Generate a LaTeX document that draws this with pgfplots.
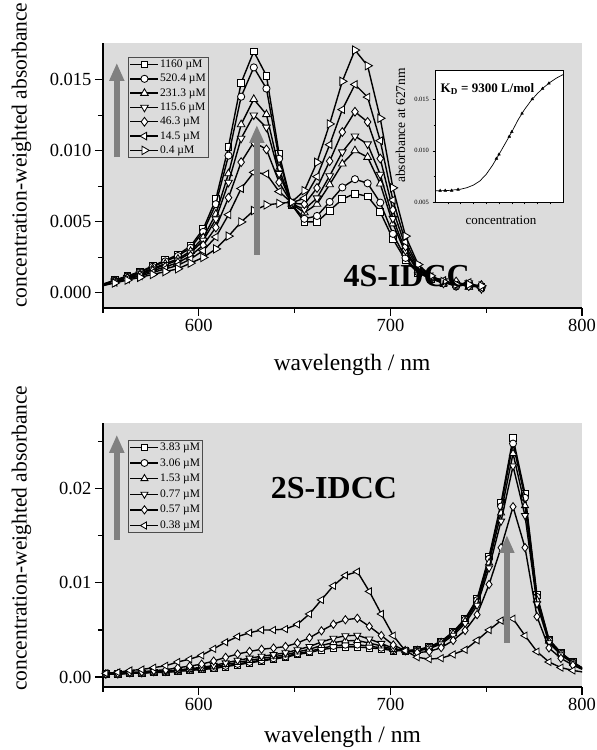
\documentclass[border=0pt]{standalone}
\usepackage{fontspec}
\setmainfont{Liberation Serif}
\usepackage{pgfplots}
\pgfplotsset{compat=1.18}
\usepackage{pgfplotstable}
\usetikzlibrary{arrows.meta}
\definecolor{bggray}{RGB}{220,220,220}
\definecolor{arrgray}{RGB}{128,128,128}
\tikzset{mo/.style={fill=white, line width=0.85pt}}

\pgfplotstableread{
lam a b c d e f g
549.5 0.00060 0.00059 0.00057 0.00056 0.00054 0.00052 0.00050
556.1 0.00090 0.00088 0.00084 0.00082 0.00079 0.00075 0.00070
562.7 0.00120 0.00117 0.00111 0.00108 0.00103 0.00097 0.00090
569.3 0.00150 0.00146 0.00138 0.00134 0.00127 0.00120 0.00110
575.9 0.00190 0.00184 0.00172 0.00166 0.00156 0.00144 0.00130
582.5 0.00230 0.00222 0.00206 0.00198 0.00184 0.00169 0.00150
589.1 0.00270 0.00260 0.00240 0.00230 0.00213 0.00194 0.00170
595.7 0.00330 0.00318 0.00294 0.00282 0.00262 0.00239 0.00210
602.3 0.00450 0.00430 0.00390 0.00370 0.00336 0.00298 0.00250
608.9 0.00660 0.00625 0.00555 0.00520 0.00461 0.00394 0.00310
615.5 0.01030 0.00967 0.00841 0.00778 0.00671 0.00551 0.00400
622.1 0.01480 0.01382 0.01186 0.01088 0.00921 0.00735 0.00500
628.7 0.01700 0.01588 0.01364 0.01252 0.01062 0.00849 0.00580
635.3 0.01530 0.01439 0.01257 0.01166 0.01011 0.00838 0.00620
641.9 0.00980 0.00945 0.00875 0.00840 0.00780 0.00714 0.00630
648.5 0.00620 0.00622 0.00626 0.00628 0.00631 0.00635 0.00640
655.1 0.00500 0.00522 0.00566 0.00588 0.00625 0.00667 0.00720
661.7 0.00500 0.00542 0.00626 0.00668 0.00739 0.00819 0.00920
668.3 0.00580 0.00641 0.00763 0.00824 0.00928 0.01044 0.01190
674.9 0.00660 0.00743 0.00909 0.00992 0.01133 0.01291 0.01490
681.5 0.00700 0.00801 0.01003 0.01104 0.01276 0.01468 0.01710
688.1 0.00680 0.00772 0.00956 0.01048 0.01204 0.01379 0.01600
694.7 0.00570 0.00636 0.00768 0.00834 0.00946 0.01072 0.01230
701.3 0.00380 0.00416 0.00488 0.00524 0.00585 0.00654 0.00740
707.9 0.00230 0.00247 0.00281 0.00298 0.00327 0.00359 0.00400
714.5 0.00140 0.00146 0.00158 0.00164 0.00174 0.00186 0.00200
721.1 0.00100 0.00102 0.00106 0.00108 0.00111 0.00115 0.00120
727.7 0.00070 0.00078 0.00065 0.00084 0.00068 0.00088 0.00080
734.3 0.00060 0.00045 0.00072 0.00052 0.00080 0.00058 0.00060
740.9 0.00050 0.00066 0.00041 0.00070 0.00048 0.00074 0.00060
747.5 0.00040 0.00033 0.00052 0.00029 0.00056 0.00036 0.00050
}\topdata

\pgfplotstableread{
lam a b c d e f
551.5 0.00030 0.00030 0.00031 0.00032 0.00034 0.00040
557.75 0.00030 0.00031 0.00032 0.00033 0.00038 0.00050
564 0.00040 0.00041 0.00043 0.00045 0.00051 0.00070
570.25 0.00040 0.00041 0.00043 0.00046 0.00055 0.00080
576.5 0.00050 0.00052 0.00054 0.00058 0.00069 0.00100
582.75 0.00050 0.00052 0.00056 0.00061 0.00077 0.00120
589 0.00060 0.00063 0.00069 0.00076 0.00098 0.00160
595.25 0.00070 0.00074 0.00080 0.00089 0.00116 0.00190
601.5 0.00080 0.00085 0.00093 0.00103 0.00137 0.00230
607.75 0.00090 0.00096 0.00108 0.00123 0.00170 0.00300
614 0.00110 0.00118 0.00132 0.00150 0.00209 0.00370
620.25 0.00130 0.00139 0.00156 0.00177 0.00244 0.00430
626.5 0.00150 0.00160 0.00177 0.00200 0.00272 0.00470
632.75 0.00170 0.00180 0.00198 0.00221 0.00295 0.00500
639 0.00190 0.00199 0.00216 0.00238 0.00308 0.00500
645.25 0.00210 0.00219 0.00236 0.00257 0.00324 0.00510
651.5 0.00240 0.00250 0.00267 0.00290 0.00362 0.00560
657.75 0.00260 0.00272 0.00295 0.00324 0.00416 0.00670
664 0.00290 0.00306 0.00335 0.00372 0.00491 0.00820
670.25 0.00310 0.00330 0.00366 0.00412 0.00561 0.00970
676.5 0.00320 0.00343 0.00385 0.00438 0.00609 0.01080
682.75 0.00320 0.00344 0.00388 0.00444 0.00624 0.01120
689 0.00310 0.00328 0.00361 0.00403 0.00538 0.00910
695.25 0.00300 0.00311 0.00331 0.00357 0.00441 0.00670
701.5 0.00280 0.00285 0.00294 0.00305 0.00341 0.00440
707.75 0.00280 0.00280 0.00280 0.00280 0.00280 0.00280
714 0.00290 0.00288 0.00283 0.00278 0.00260 0.00210
720.25 0.00320 0.00316 0.00309 0.00300 0.00271 0.00190
726.5 0.00380 0.00375 0.00365 0.00352 0.00312 0.00200
732.75 0.00480 0.00473 0.00460 0.00443 0.00389 0.00240
739 0.00620 0.00610 0.00592 0.00569 0.00495 0.00290
745.25 0.00830 0.00817 0.00793 0.00762 0.00663 0.00390
751.5 0.01280 0.01257 0.01214 0.01159 0.00984 0.00500
757.75 0.01850 0.01813 0.01744 0.01656 0.01375 0.00600
764 0.02540 0.02482 0.02377 0.02242 0.01810 0.00620
770.25 0.01950 0.01905 0.01822 0.01716 0.01376 0.00440
776.5 0.00870 0.00852 0.00819 0.00777 0.00642 0.00270
782.75 0.00400 0.00393 0.00380 0.00363 0.00309 0.00160
789 0.00260 0.00255 0.00246 0.00235 0.00199 0.00100
795.25 0.00160 0.00157 0.00152 0.00146 0.00126 0.00070
801.5 0.00080 0.00079 0.00077 0.00075 0.00069 0.00050
}\botdata

\pgfplotsset{
  spec/.style={black, line width=1.4pt, mark size=3.8pt},
  myaxis/.style={
    scale only axis, width=479pt,
    xmin=550, xmax=800,
    axis background/.style={fill=bggray},
    axis x line*=bottom, axis y line*=left,
    axis line style={line width=1.1pt, -},
    tick align=outside,
    major tick length=8pt, minor tick length=5pt,
    tick style={black, line width=1.1pt},
    xtick={600,700,800}, minor xtick={550,650,750},
    tick label style={font=\fontsize{18.5}{20}\selectfont},
    /pgf/number format/assume math mode=true,
    scaled y ticks=false,
    xlabel={wavelength / nm},
    ylabel={concentration-weighted absorbance},
    xlabel style={font=\fontsize{23.5}{26}\selectfont, anchor=center},
    ylabel style={font=\fontsize{21.5}{24}\selectfont, anchor=center},
    clip mode=individual,
    legend cell align=left,
    legend style={draw=black!70, fill=none, line width=0.7pt, font=\fontsize{11.5}{12}\selectfont,
      anchor=north west, inner sep=1.5pt, row sep=3.2pt,
      nodes={inner sep=1pt}},
    legend image code/.code={\draw[mark repeat=2,mark phase=2,##1] plot coordinates {(0pt,0pt) (14pt,0pt) (28pt,0pt)};},
  }
}

\begin{document}
\begin{tikzpicture}[x=1pt,y=1pt]
\path[use as bounding box] (0,0) rectangle (597,750);

% ---------- top panel ----------
\begin{axis}[myaxis,
  at={(103pt,442pt)}, anchor=south west, height=265pt,
  ymin=-0.00106, ymax=0.0176,
  ytick={0,0.005,0.010,0.015}, minor ytick={0.0025,0.0075,0.0125},
  yticklabel style={/pgf/number format/.cd, fixed, fixed zerofill, precision=3},
  xlabel style={at={(axis description cs:0.52,-0.215)}},
  ylabel style={at={(axis description cs:-0.17,0.577)}},
  legend style={at={(rel axis cs:0.052,0.947)}},
]
\addplot[spec, mark=square*, mark size=3.4pt, mark options={mo}] table[x=lam,y=a] {\topdata};
\addplot[spec, mark=*, mark size=3.6pt, mark options={mo}] table[x=lam,y=b] {\topdata};
\addplot[spec, mark=triangle*, mark size=4.4pt, mark options={mo}] table[x=lam,y=c] {\topdata};
\addplot[spec, mark=triangle*, mark size=4.4pt, mark options={mo, rotate=180}] table[x=lam,y=d] {\topdata};
\addplot[spec, mark=diamond*, mark size=4.4pt, mark options={mo}] table[x=lam,y=e] {\topdata};
\addplot[spec, mark=triangle*, mark size=4.4pt, mark options={mo, rotate=90}] table[x=lam,y=f] {\topdata};
\addplot[spec, mark=triangle*, mark size=4.8pt, mark options={mo, rotate=-90}] table[x=lam,y=g] {\topdata};
\legend{1160 µM, 520.4 µM, 231.3 µM, 115.6 µM, 46.3 µM, 14.5 µM, 0.4 µM}
\draw[arrgray, line width=5.5pt, -{Triangle[length=18pt,width=14pt]}] (axis cs:557.2,0.00957) -- (axis cs:557.2,0.0162);
\draw[arrgray, line width=5.5pt, -{Triangle[length=18pt,width=14pt]}] (axis cs:630.3,0.00268) -- (axis cs:630.3,0.01183);
\node[font=\fontsize{32}{34}\selectfont\bfseries] at (axis cs:708.5,0.0012) {4S-IDCC};
\end{axis}

% ---------- inset ----------
\begin{axis}[
  at={(435pt,548pt)}, anchor=south west, scale only axis, width=128pt, height=132pt,
  xmin=0, xmax=100, ymin=0.005, ymax=0.0179,
  axis background/.style={fill=white},
  axis line style={line width=0.6pt},
  ytick={0.005,0.010,0.015}, minor ytick={0.0075,0.0125},
  xtick={10,20,30,40,50,60,70,80,90}, xticklabels={},
  xtick pos=bottom, ytick pos=left,
  tick align=outside, major tick length=2.5pt, minor tick length=1.5pt,
  tick style={black, line width=0.5pt},
  yticklabel style={font=\fontsize{6.5}{7}\selectfont, /pgf/number format/.cd, fixed, fixed zerofill, precision=3},
  /pgf/number format/assume math mode=true,
  scaled y ticks=false,
  xlabel={concentration}, ylabel={absorbance at 627nm},
  xlabel style={font=\fontsize{13}{14}\selectfont, at={(axis description cs:0.515,-0.136)}, anchor=center},
  ylabel style={font=\fontsize{13.5}{14}\selectfont, at={(axis description cs:-0.27,0.58)}, anchor=center},
]
\addplot[black, line width=0.7pt] coordinates {(0,0.00610)(10,0.00612)(20,0.00625)(25,0.00640)(30,0.00665)(35,0.00705)(40,0.00770)(45,0.00860)(50,0.00965)(55,0.01075)(60,0.01185)(65,0.01305)(70,0.01405)(75,0.01490)(80,0.01560)(85,0.01620)(90,0.01670)(95,0.01712)(100,0.01745)};
\addplot[only marks, black, mark=triangle*, mark size=1.6pt] coordinates {(4,0.00610)(8,0.00611)(13,0.00612)(18,0.00621)(48,0.00925)(50,0.00965)(58,0.01140)(60,0.01185)(68,0.01365)(76,0.01505)(84,0.01608)(89,0.01660)};
\node[font=\fontsize{13}{14}\selectfont\bfseries] at (rel axis cs:0.41,0.856) {K\textsubscript{D} = 9300 L/mol};
\end{axis}

% ---------- bottom panel ----------
\begin{axis}[myaxis,
  at={(103pt,63pt)}, anchor=south west, height=264pt,
  ymin=-0.00106, ymax=0.0270,
  ytick={0,0.01,0.02}, minor ytick={0.005,0.015,0.025},
  yticklabel style={/pgf/number format/.cd, fixed, fixed zerofill, precision=2},
  xlabel style={at={(axis description cs:0.5,-0.189)}},
  ylabel style={at={(axis description cs:-0.17,0.564)}},
  legend style={at={(rel axis cs:0.052,0.936)}, row sep=4.5pt},
]
\addplot[spec, mark=square*, mark size=3.3pt, mark options={mo}] table[x=lam,y=a] {\botdata};
\addplot[spec, mark=*, mark size=3.5pt, mark options={mo}] table[x=lam,y=b] {\botdata};
\addplot[spec, mark=triangle*, mark size=4.1pt, mark options={mo}] table[x=lam,y=c] {\botdata};
\addplot[spec, mark=triangle*, mark size=4.1pt, mark options={mo, rotate=180}] table[x=lam,y=d] {\botdata};
\addplot[spec, mark=diamond*, mark size=4.1pt, mark options={mo}] table[x=lam,y=e] {\botdata};
\addplot[spec, mark=triangle*, mark size=4.1pt, mark options={mo, rotate=90}] table[x=lam,y=f] {\botdata};
\legend{3.83 µM, 3.06 µM, 1.53 µM, 0.77 µM, 0.57 µM, 0.38 µM}
\draw[arrgray, line width=5.5pt, -{Triangle[length=18pt,width=14pt]}] (axis cs:557.2,0.01458) -- (axis cs:557.2,0.02575);
\draw[arrgray, line width=5.5pt, -{Triangle[length=18pt,width=14pt]}] (axis cs:760.8,0.00362) -- (axis cs:760.8,0.0151);
\node[font=\fontsize{32}{34}\selectfont\bfseries] at (axis cs:670.5,0.0201) {2S-IDCC};
\end{axis}
\end{tikzpicture}
\end{document}
